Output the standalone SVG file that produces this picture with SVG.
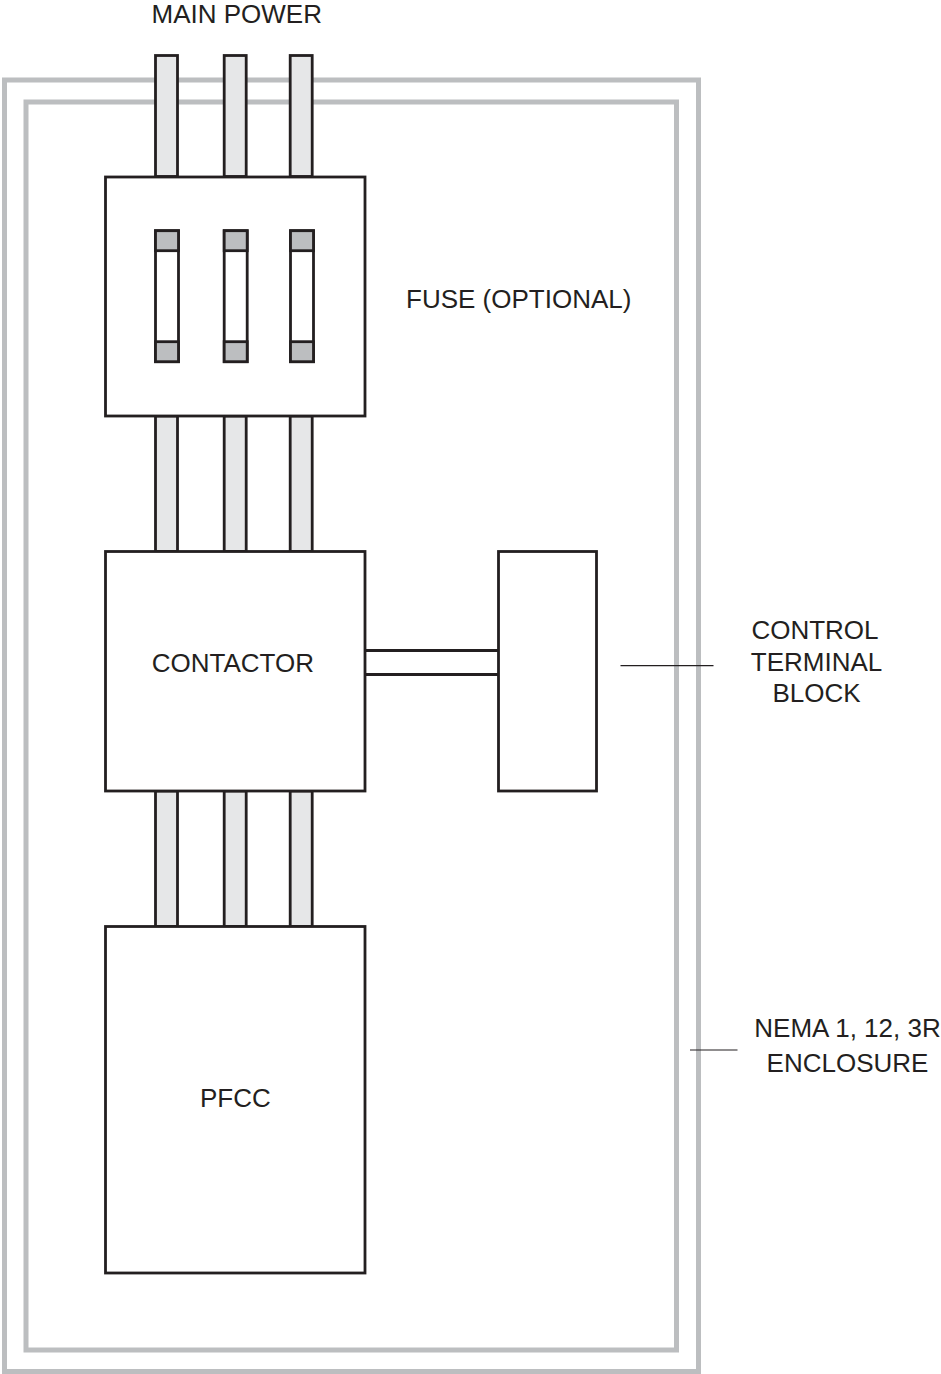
<svg xmlns="http://www.w3.org/2000/svg" width="941" height="1374" viewBox="0 0 941 1374">
<style>
.encl{fill:none;stroke:#bcbec0;stroke-width:5}
.box{fill:#ffffff;stroke:#231f20;stroke-width:2.8}
.bar{fill:#e6e7e8;stroke:#231f20;stroke-width:2.8}
.cap{fill:#bcbec0;stroke:#231f20;stroke-width:2.8}
.fuse{fill:#ffffff;stroke:#231f20;stroke-width:2.8}
.wire{fill:none;stroke:#231f20;stroke-width:2.8}
.lead{fill:none;stroke:#231f20;stroke-width:1.2}
text{font-family:"Liberation Sans",Arial,sans-serif;font-size:26px;fill:#231f20;text-anchor:middle}
</style>
<rect width="941" height="1374" fill="#ffffff"/>
<g id="enclosure">
<rect class="encl" x="4.5" y="80" width="694" height="1291.5"/>
<rect class="encl" x="26" y="102" width="650.5" height="1248"/>
</g>
<g id="connectors">
<rect class="bar" x="155.5" y="55.5" width="22" height="121"/>
<rect class="bar" x="224.2" y="55.5" width="22" height="121"/>
<rect class="bar" x="290.2" y="55.5" width="22" height="121"/>
<rect class="bar" x="155.5" y="416" width="22" height="135.5"/>
<rect class="bar" x="224.2" y="416" width="22" height="135.5"/>
<rect class="bar" x="290.2" y="416" width="22" height="135.5"/>
<rect class="bar" x="155.5" y="791" width="22" height="135.5"/>
<rect class="bar" x="224.2" y="791" width="22" height="135.5"/>
<rect class="bar" x="290.2" y="791" width="22" height="135.5"/>
<line class="wire" x1="366" y1="650.5" x2="498" y2="650.5"/>
<line class="wire" x1="366" y1="674.5" x2="498" y2="674.5"/>
<line class="lead" x1="620.5" y1="665.7" x2="713.5" y2="665.7"/>
<line class="lead" x1="690" y1="1050" x2="737.5" y2="1050"/>
</g>
<g id="fuse-box">
<rect class="box" x="105.5" y="177" width="259.5" height="239"/>
<g id="fuse1">
<rect class="fuse" x="155.5" y="230.7" width="23" height="131"/>
<rect class="cap" x="155.5" y="230.7" width="23" height="20"/>
<rect class="cap" x="155.5" y="341.7" width="23" height="20"/>
</g>
<g id="fuse2">
<rect class="fuse" x="224.2" y="230.7" width="23" height="131"/>
<rect class="cap" x="224.2" y="230.7" width="23" height="20"/>
<rect class="cap" x="224.2" y="341.7" width="23" height="20"/>
</g>
<g id="fuse3">
<rect class="fuse" x="290.5" y="230.7" width="23" height="131"/>
<rect class="cap" x="290.5" y="230.7" width="23" height="20"/>
<rect class="cap" x="290.5" y="341.7" width="23" height="20"/>
</g>
</g>
<g id="contactor">
<rect class="box" x="105.5" y="551.5" width="259.5" height="239.5"/>
<text x="232.8" y="671.5">CONTACTOR</text>
</g>
<g id="control-terminal-block">
<rect class="box" x="498.5" y="551.5" width="98" height="239.5"/>
</g>
<g id="pfcc">
<rect class="box" x="105.5" y="926.5" width="259.5" height="346.5"/>
<text x="235.3" y="1107.3">PFCC</text>
</g>
<g id="labels">
<text x="236.7" y="23.3">MAIN POWER</text>
<text x="518.7" y="308.3">FUSE (OPTIONAL)</text>
<text x="815" y="639.3">CONTROL</text>
<text x="816.5" y="671">TERMINAL</text>
<text x="816.5" y="701.7">BLOCK</text>
<text x="847.5" y="1037.3">NEMA 1, 12, 3R</text>
<text x="847.5" y="1071.7">ENCLOSURE</text>
</g>
</svg>
